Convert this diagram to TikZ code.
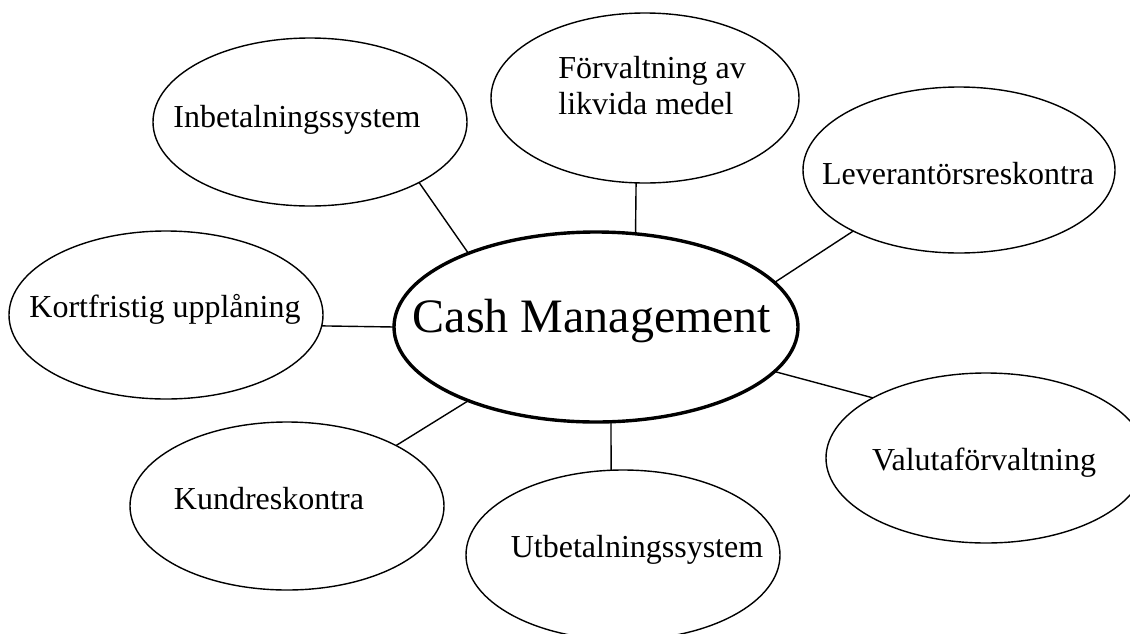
\documentclass[tikz,border=0pt]{standalone}
\usepackage{fontspec}
\setmainfont{Liberation Serif}
\usetikzlibrary{shapes.geometric}
\begin{document}
\begin{tikzpicture}[x=0.5pt,y=-0.5pt,
  bubble/.style={draw,ellipse,line width=0.7pt,inner sep=0pt,outer sep=0pt},
  hub/.style={draw,ellipse,line width=1.7pt,inner sep=0pt,outer sep=0pt},
  lbl/.style={inner sep=0pt,anchor=base,font=\fontsize{16}{18}\selectfont},
  link/.style={line width=0.7pt}]
\useasboundingbox (0,0) rectangle (1130,633);
\clip (0,0) rectangle (1130,633);
% hub
\node[hub,minimum width=202pt,minimum height=95pt] (C) at (596,327) {};
% satellites
\node[bubble,minimum width=157pt,minimum height=84pt] (inb) at (310,122) {};
\node[bubble,minimum width=154pt,minimum height=85pt] (forv) at (645,98) {};
\node[bubble,minimum width=156pt,minimum height=83pt] (lev) at (959,170) {};
\node[bubble,minimum width=157pt,minimum height=84pt] (kort) at (166,315) {};
\node[bubble,minimum width=160pt,minimum height=85pt] (val) at (986,458) {};
\node[bubble,minimum width=157pt,minimum height=84pt] (kund) at (287,506) {};
\node[bubble,minimum width=157pt,minimum height=85pt] (utb) at (623,555) {};
% texts
\node[inner sep=0pt,anchor=base,font=\fontsize{24}{28}\selectfont] (Ct) at (592,332) {Cash Management};
\node[lbl] (inbt) at (297,127) {Inbetalningssystem};
\node[lbl,anchor=base west] (forvt1) at (558,78) {Förvaltning av};
\node[lbl,anchor=base west] (forvt2) at (558,114) {likvida medel};
\node[lbl] (levt) at (958,184) {Leverantörsreskontra};
\node[lbl] (kortt) at (165,317) {Kortfristig upplåning};
\node[lbl] (valt) at (984,470) {Valutaförvaltning};
\node[lbl] (kundt) at (269,509) {Kundreskontra};
\node[lbl] (utbt) at (637,557) {Utbetalningssystem};
% connectors
\draw[link] (inb.-29) -- (C.150);
\draw[link] (forv.-96.7) -- (C.67.7);
\draw[link] (lev.-150.4) -- (C.14.5);
\draw[link] (kort.-4.4) -- (C.180);
\draw[link] (val.152.2) -- (C.-14.2);
\draw[link] (kund.29) -- (C.-150.9);
\draw[link] (utb.98) -- (C.-81.1);
\end{tikzpicture}
\end{document}
